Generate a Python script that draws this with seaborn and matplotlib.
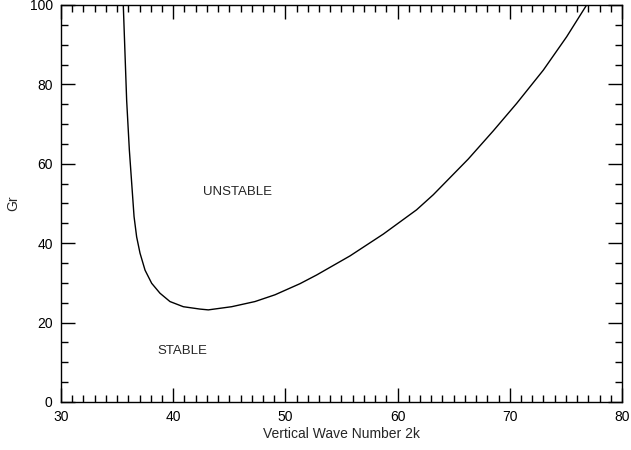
import numpy as np
import matplotlib
matplotlib.use("Agg")
import matplotlib.pyplot as plt
from matplotlib.ticker import MultipleLocator
import seaborn as sns

# Stabilitaetsgrenze
wave_number = [35.55, 35.7, 35.85, 36.09, 36.30, 36.51, 36.74, 37.04, 37.49, 38.08,
               38.82, 39.71, 40.90, 42.39, 43.13, 45.21, 47.29, 49.07, 51.3, 52.79,
               55.76, 58.73, 61.69, 63.18, 66.30, 68.53, 70.61, 72.99, 75.07, 76.85]
grashof = [100, 88, 76, 63.5, 55.1, 46.7, 41.6, 37.5, 33.2, 29.9,
           27.4, 25.3, 24.0, 23.4, 23.2, 24.0, 25.3, 27.0, 29.8, 32.0,
           36.8, 42.3, 48.4, 52.2, 61.2, 68.3, 75.2, 83.6, 92.0, 100]

x_ticks = [30, 40, 50, 60, 70, 80]
y_ticks = [0, 20, 40, 60, 80, 100]

sns.set_theme(style="ticks")
plt.rcParams['font.family'] = ['Liberation Sans', 'DejaVu Sans']

fig = plt.figure(figsize=(6.31, 4.5), dpi=100)
ax = fig.add_axes([0.0967, 0.1067, 0.889, 0.8822])

sns.lineplot(x=wave_number, y=grashof, sort=False, estimator=None,
             color='black', linewidth=1.0, ax=ax)

ax.set_xlim(30, 80)
ax.set_ylim(0, 100)
ax.set_xticks(x_ticks)
ax.set_yticks(y_ticks)
ax.xaxis.set_minor_locator(MultipleLocator(1))
ax.yaxis.set_minor_locator(MultipleLocator(5))
ax.tick_params(which='both', direction='in', top=True, right=True,
               colors='black', labelsize=10, width=1.0)
ax.tick_params(which='major', length=10, pad=6)
ax.tick_params(which='minor', length=5)
for s in ax.spines.values():
    s.set_color('black')
    s.set_linewidth(1.0)

ax.set_xlabel("Vertical Wave Number 2k", fontsize=10, labelpad=2)
ax.set_ylabel("Gr", fontsize=10, labelpad=7)

ax.text(45.7, 53, "UNSTABLE", ha='center', va='center', fontsize=9.5)
ax.text(40.8, 12.9, "STABLE", ha='center', va='center', fontsize=9.5)

fig.savefig("out.png", dpi=100)
